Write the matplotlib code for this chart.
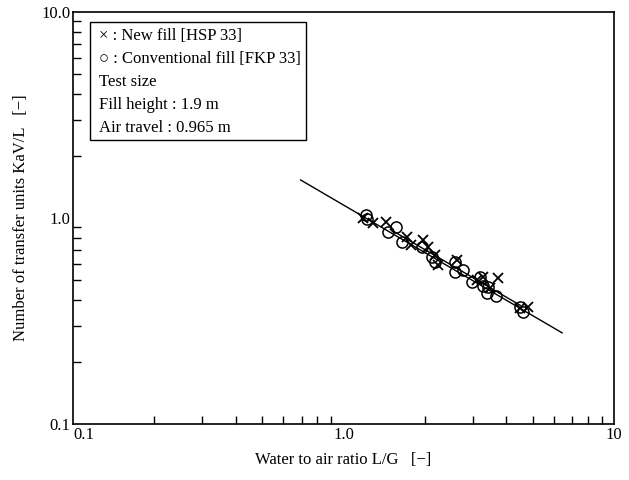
import matplotlib
matplotlib.use("Agg")
import matplotlib.pyplot as plt
from matplotlib.ticker import LogLocator, FixedLocator, FixedFormatter, NullFormatter
from matplotlib.patches import Rectangle

plt.rcParams['font.family'] = ['Liberation Serif', 'DejaVu Serif']

# New fill [HSP 33] (crosses)
new_x = [1.185, 1.28, 1.43, 1.72, 1.77, 1.96, 2.06, 2.185, 2.24, 2.63, 3.29, 3.12, 3.73, 3.49, 4.82, 4.50]
new_y = [1.00, 0.946, 0.956, 0.809, 0.740, 0.782, 0.723, 0.661, 0.591, 0.625, 0.517, 0.500, 0.511, 0.457, 0.370, 0.366]

# Conventional fill [FKP 33] (circles)
conv_x = [1.206, 1.226, 1.466, 1.569, 1.651, 1.957, 2.13, 2.185, 2.59, 2.59, 2.77, 2.99, 3.20, 3.29, 3.43, 3.40, 3.67, 4.50, 4.61]
conv_y = [1.034, 0.989, 0.855, 0.904, 0.765, 0.723, 0.647, 0.612, 0.612, 0.547, 0.559, 0.489, 0.517, 0.468, 0.463, 0.432, 0.418, 0.370, 0.350]

# Correlation lines
line1_x = [0.694, 6.43]
line1_y = [1.53, 0.277]
line2_x = [1.49, 4.5]
line2_y = [0.880, 0.377]

legend_lines = ["\u00d7 : New fill [HSP 33]",
                "\u25cb : Conventional fill [FKP 33]",
                "Test size",
                "Fill height : 1.9 m",
                "Air travel : 0.965 m"]

fig = plt.figure(figsize=(6.29, 4.8), dpi=100)
ax = fig.add_axes([73/629, 1-424/480, (614-73)/629, (424-12)/480])
ax.set_xscale('log')
ax.set_yscale('log')
ax.set_xlim(0.1, 10)
ax.set_ylim(0.1, 10)

ax.plot(line1_x, line1_y, color='black', lw=1.0)
ax.plot(line2_x, line2_y, color='black', lw=1.0)
ax.plot(conv_x, conv_y, linestyle='none', marker='o', ms=8, mfc='none', mec='black', mew=1.1)
ax.plot(new_x, new_y, linestyle='none', marker='x', ms=7, color='black', mew=1.3)

ax.xaxis.set_major_locator(FixedLocator([0.1, 1.0, 10.0]))
ax.xaxis.set_major_formatter(FixedFormatter(['0.1', '1.0', '10']))
ax.yaxis.set_major_locator(FixedLocator([0.1, 1.0, 10.0]))
ax.yaxis.set_major_formatter(FixedFormatter(['0.1', '1.0', '10.0']))
ax.xaxis.set_minor_locator(LogLocator(base=10, subs=range(2, 10)))
ax.yaxis.set_minor_locator(LogLocator(base=10, subs=range(2, 10)))
ax.xaxis.set_minor_formatter(NullFormatter())
ax.yaxis.set_minor_formatter(NullFormatter())
ax.tick_params(which='both', direction='in', top=False, right=False, labelsize=12, pad=2)
ax.tick_params(which='major', length=0)
ax.tick_params(which='minor', length=6, width=1)
for lab in ax.get_xticklabels():
    if lab.get_text() == '0.1':
        lab.set_horizontalalignment('left')
for s in ax.spines.values():
    s.set_linewidth(1.2)

ax.set_xlabel("Water to air ratio L/G   [\u2212]", fontsize=12, labelpad=7)
ax.set_ylabel("Number of transfer units KaV/L   [\u2212]", fontsize=12, labelpad=9)

# legend-like annotation box
x0, y0, x1, y1 = 90, 22, 306, 140
rect = Rectangle(((x0-73)/541, 1-(y1-12)/412), (x1-x0)/541, (y1-y0)/412,
                 transform=ax.transAxes, fill=False, edgecolor='black', lw=1.0)
ax.add_patch(rect)
for i, t in enumerate(legend_lines):
    ypix = 36 + i*23
    ax.text((99-73)/541, 1-(ypix-12)/412, t, transform=ax.transAxes,
            fontsize=12, va='center', ha='left')

fig.savefig("out.png", dpi=100)
